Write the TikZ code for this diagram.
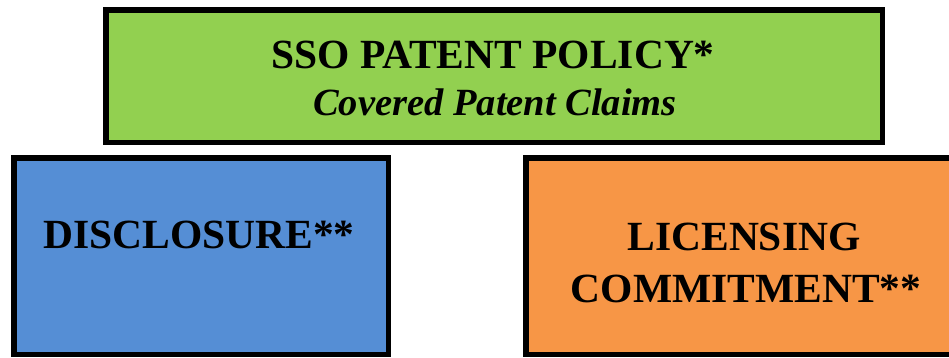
\documentclass[tikz,border=0pt]{standalone}
\usepackage{fontspec}
\setmainfont{Liberation Serif}
\definecolor{polgreen}{RGB}{146,208,80}
\definecolor{discblue}{RGB}{85,142,213}
\definecolor{liccorange}{RGB}{247,150,70}
\begin{document}
\begin{tikzpicture}[x=1pt,y=-1pt,
  box/.style={draw=black, line width=5.5pt, rectangle, inner sep=0pt, miter limit=10},
  bigtxt/.style={anchor=base, inner sep=0pt, font=\fontsize{41.5}{52}\selectfont\bfseries},
  subtxt/.style={anchor=base, inner sep=0pt, font=\fontsize{38.5}{48}\selectfont\bfseries\itshape}]
\useasboundingbox (0,0) rectangle (949,357);
\fill[white] (0,0) rectangle (949,357);
\node[box, fill=polgreen, minimum width=776.5pt, minimum height=132.5pt] (policy) at (494,76) {};
\node[box, fill=discblue, minimum width=374.5pt, minimum height=196.5pt] (disc) at (201,256) {};
\node[box, fill=liccorange, minimum width=434.25pt, minimum height=196.5pt] (lic) at (742.9,256) {};
\node[bigtxt] (t1) at (493,68) {SSO PATENT POLICY*};
\node[subtxt] (t2) at (495,115) {Covered Patent Claims};
\node[bigtxt] (t3) at (199,248) {DISCLOSURE**};
\node[bigtxt] (t4) at (744,250) {LICENSING};
\node[bigtxt] (t5) at (746,302) {COMMITMENT**};
\end{tikzpicture}
\end{document}
